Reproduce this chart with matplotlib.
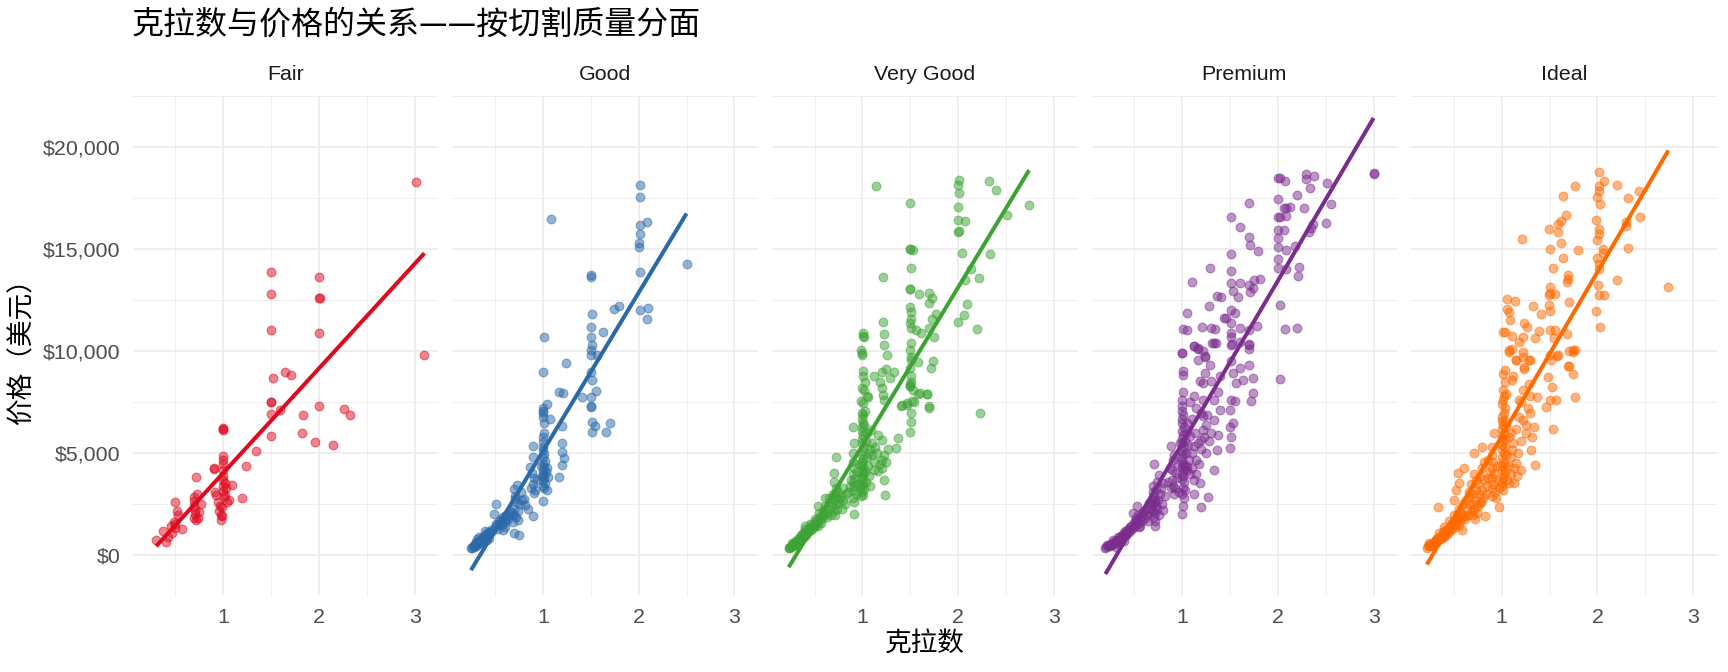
import numpy as np
import matplotlib
matplotlib.use("Agg")
import matplotlib.pyplot as plt

plt.rcParams['font.family'] = ['Liberation Sans', 'Noto Sans CJK SC', 'DejaVu Sans']

cuts = ["Fair", "Good", "Very Good", "Premium", "Ideal"]
colors = ["#DE0A1F", "#2B69A8", "#3DA335", "#7B2D8E", "#FF6A00"]

# straight-line fit (price = intercept + slope * carat)
fit_slope = [5126, 7764, 7750, 7978, 8048]
fit_intercept = [-1084, -2661, -2360, -2505, -2211]

# (carat, price) pairs
fair_pts = [
    (0.30, 750), (0.40, 650), (0.37, 1190), (0.47, 1110), (0.50, 1350), (0.57, 1300), (0.49, 1630),
    (0.52, 2170), (0.50, 2610), (0.53, 2000), (0.45, 1450), (0.42, 900), (0.50, 1550),
    (0.70, 2660), (0.71, 2250), (0.70, 1840), (0.74, 1840), (0.72, 3820), (0.73, 3030), (0.77, 2540),
    (0.70, 2400), (0.71, 2050), (0.72, 1750), (0.75, 2150), (0.70, 2850),
    (0.90, 4290), (0.91, 3100), (0.92, 2940), (0.97, 2410), (0.99, 1920), (0.98, 1730), (0.90, 4250),
    (0.95, 2600), (0.96, 2200), (0.98, 2000),
    (1.00, 6250), (1.00, 6200), (1.00, 6150), (1.00, 4860), (1.00, 4700), (1.00, 4500), (1.00, 4210),
    (1.00, 3880), (1.00, 3700), (1.00, 3400), (1.00, 3150), (1.02, 3560), (1.09, 3460), (1.06, 2740),
    (1.02, 2980), (0.99, 2380), (1.01, 2850), (1.04, 2600), (1.03, 3300),
    (1.20, 2820), (1.24, 4400), (1.34, 5120),
    (1.50, 5870), (1.50, 6930), (1.50, 7500), (1.50, 7520), (1.59, 7140), (1.52, 8690), (1.64, 8970),
    (1.71, 8820), (1.83, 6900), (1.82, 6000), (1.96, 5580), (2.00, 7310), (2.15, 5430), (2.26, 7180),
    (2.32, 6870), (3.10, 9830),
    (1.50, 13890), (1.50, 12820), (1.50, 11030), (2.00, 13620), (2.00, 12620), (2.01, 12600),
    (2.00, 10900), (3.01, 18300),
]

good_pts = [
    (1.09, 16460), (2.01, 18150), (2.01, 17560), (2.01, 16200), (2.09, 16350), (2.01, 15770), (2.00, 15300),
    (2.00, 15120), (2.01, 13890), (2.50, 14300), (1.50, 13720), (1.50, 13640), (1.74, 12050), (1.80, 12210),
    (2.01, 12000), (2.10, 12130), (2.09, 11590), (1.51, 11850), (1.50, 11210), (1.63, 10940), (1.01, 10720),
    (1.50, 10690), (1.51, 10300), (1.50, 10080), (1.50, 9840), (1.57, 9840), (1.24, 9410), (1.00, 8990),
    (1.50, 8970), (1.51, 8610), (1.56, 8050), (1.17, 7990), (1.21, 7940), (1.41, 7740), (1.50, 7740),
    (1.50, 7330), (1.50, 7250), (1.51, 6530), (1.54, 6360), (1.70, 6480), (1.51, 6040), (1.66, 6040),
    (1.04, 7430), (1.00, 7220), (1.00, 7100), (1.00, 6970), (1.00, 6800), (1.01, 6480), (1.08, 6690),
    (1.20, 6350), (1.01, 5990), (1.00, 5800), (1.00, 5580), (1.20, 5530), (1.20, 5090), (1.22, 4770),
    (1.20, 4450), (1.17, 3860), (0.90, 5360), (0.90, 4840),
    (1.00, 5330), (1.00, 5150), (1.01, 4950), (1.00, 4800), (1.02, 4650), (1.00, 4500), (1.01, 4350),
    (1.00, 4200), (1.03, 4100), (1.00, 4000), (1.01, 3850), (1.00, 3700), (1.02, 3550), (1.00, 3400),
    (1.01, 3300), (0.98, 4400), (0.99, 3900), (1.04, 4300), (1.05, 3860), (1.04, 3230), (1.00, 2680),
    (0.91, 3040), (0.90, 1920), (0.87, 4350), (0.89, 4020), (0.94, 3690), (0.90, 3500), (0.91, 3800),
    (0.92, 3200), (0.88, 3300),
    (0.70, 3280), (0.73, 3450), (0.51, 2510), (0.49, 2020), (0.80, 2790), (0.84, 2300), (0.70, 2300),
    (0.74, 1730), (0.70, 1100), (0.75, 990), (0.72, 2600), (0.71, 2900), (0.76, 2500), (0.78, 2700),
    (0.74, 2200), (0.70, 2000), (0.72, 1900), (0.81, 2450), (0.77, 3100), (0.71, 2750),
    (0.30, 500), (0.31, 600), (0.32, 550), (0.33, 700), (0.30, 450), (0.28, 420), (0.26, 380), (0.27, 480),
    (0.25, 350), (0.29, 560), (0.34, 650), (0.35, 780), (0.36, 720), (0.37, 850), (0.38, 900), (0.40, 950),
    (0.41, 1050), (0.42, 1000), (0.43, 1150), (0.45, 1100), (0.46, 1250), (0.47, 1200), (0.50, 1400),
    (0.51, 1550), (0.52, 1500), (0.54, 1700), (0.55, 1600), (0.56, 1800), (0.58, 1900), (0.60, 1750),
    (0.62, 2000), (0.65, 1950), (0.31, 800), (0.33, 900), (0.32, 640), (0.35, 600), (0.39, 700),
    (0.40, 1200), (0.42, 780), (0.44, 880), (0.30, 680), (0.53, 1300), (0.57, 1500), (0.61, 1650),
    (0.64, 1800), (0.66, 2200), (0.68, 2100), (0.69, 1650), (0.60, 1400), (0.58, 1250),
]

very_good_pts = [
    (1.14, 18100), (1.50, 17270), (2.01, 18390), (2.00, 18150), (2.01, 17740), (2.32, 18360), (2.39, 17910),
    (2.74, 17170), (2.51, 16700), (2.00, 17090), (2.00, 16440), (2.07, 16360), (2.01, 15870), (2.00, 15850),
    (1.50, 15000), (1.50, 15020), (1.53, 14950), (2.04, 14800), (2.33, 14780), (1.51, 14100), (1.21, 13630),
    (2.13, 14050), (2.07, 13480), (2.22, 13580), (1.50, 13030), (1.50, 13050), (1.59, 12830), (1.70, 12880),
    (1.73, 12590), (1.69, 12390), (2.09, 12300), (1.50, 12180), (1.51, 11940), (1.51, 11560), (2.06, 11780),
    (1.77, 11810), (1.73, 11560), (2.00, 11420), (2.20, 11090), (1.21, 11450), (1.50, 11400), (1.51, 11130),
    (1.56, 11050), (1.61, 10880), (1.70, 11130), (1.75, 10690), (1.01, 10880), (1.02, 10690), (1.01, 10750),
    (1.23, 10830), (1.22, 10310), (1.26, 9820), (0.99, 10070), (1.00, 9820), (1.00, 9900), (1.51, 10390),
    (1.50, 10070), (1.51, 9740), (1.51, 9580), (1.58, 9500), (1.74, 9550), (1.72, 9170), (1.01, 9060),
    (1.01, 8770), (1.03, 8520), (1.12, 8800), (1.20, 9000), (1.25, 9120), (1.33, 8980), (1.29, 8690),
    (1.18, 8480), (1.20, 8200), (1.00, 8200), (1.05, 7830), (0.99, 7550), (1.21, 7870), (1.23, 7630),
    (1.50, 9170), (1.51, 8770), (1.50, 8280), (1.50, 8300), (1.53, 8120), (1.60, 7960), (1.67, 7910),
    (1.52, 7550), (1.47, 7390), (1.40, 7340), (1.70, 7300), (1.50, 8400), (1.51, 8500),
    (2.23, 7000), (1.70, 7240), (1.51, 7000), (1.51, 6520), (1.50, 6030), (1.41, 7370), (1.47, 7450),
    (1.54, 7530), (1.58, 7910), (1.67, 7910), (1.37, 5740), (1.35, 5250), (1.27, 5200), (1.22, 3700),
    (1.24, 2940), (1.20, 4680), (0.91, 2040), (0.90, 6280), (0.91, 5530), (1.01, 6880), (1.01, 7450),
    (1.02, 8100), (1.06, 7780), (1.09, 6150), (1.16, 5900), (1.20, 5660), (1.13, 5330), (1.07, 5010),
    (0.72, 4840), (0.70, 4030), (0.61, 2800), (0.54, 2400), (0.40, 1420), (0.26, 610), (0.23, 360),
    (1.00, 7000), (1.00, 6700), (1.01, 6500), (1.00, 6300), (1.00, 6100), (1.01, 5900), (1.00, 5700),
    (1.00, 5500), (1.02, 5300), (1.00, 5100), (1.00, 4900), (1.01, 4750), (1.00, 4600), (1.00, 4450),
    (1.02, 4300), (1.00, 4150), (1.01, 4000), (1.00, 3850), (1.00, 3700), (1.01, 3550), (1.00, 3400),
    (1.02, 3250), (1.00, 3100), (1.01, 2950), (1.04, 5600), (1.05, 4800), (1.06, 4400), (1.08, 5200),
    (1.10, 4900), (1.12, 4600), (1.15, 5000), (1.18, 4500), (1.10, 5500), (1.05, 6000), (1.03, 4100),
    (1.07, 3900), (1.12, 4200), (1.20, 4300), (1.25, 4600), (1.22, 4900), (1.16, 4150), (1.04, 3600),
    (1.08, 3400), (1.02, 6400), (1.03, 7100),
    (0.90, 5000), (0.90, 4600), (0.91, 4300), (0.90, 4000), (0.92, 3800), (0.90, 3600), (0.91, 3400),
    (0.90, 3200), (0.93, 3000), (0.90, 2800), (0.91, 2600), (0.95, 3500), (0.94, 4100), (0.96, 4500),
    (0.97, 3300), (0.98, 2900), (0.88, 3700), (0.87, 3400), (0.85, 3100), (0.83, 3000), (0.80, 2700),
    (0.80, 3300), (0.82, 2500), (0.78, 2900), (0.79, 2300),
    (0.70, 3600), (0.72, 3300), (0.71, 3000), (0.70, 2700), (0.72, 2500), (0.73, 2300), (0.70, 2200),
    (0.71, 2000), (0.74, 2800), (0.76, 2600), (0.75, 3100), (0.66, 2600), (0.64, 2300), (0.62, 2100),
    (0.60, 2000), (0.58, 1850), (0.56, 1750), (0.55, 1900), (0.53, 1600), (0.52, 1700), (0.51, 1500),
    (0.50, 1450), (0.50, 1650), (0.48, 1350), (0.46, 1250), (0.45, 1400), (0.44, 1200), (0.42, 1100),
    (0.41, 1000), (0.40, 1150), (0.39, 900), (0.38, 950), (0.37, 850), (0.36, 800), (0.35, 750),
    (0.34, 700), (0.33, 650), (0.32, 600), (0.31, 550), (0.30, 520), (0.30, 650), (0.28, 480), (0.27, 500),
    (0.26, 450), (0.25, 420), (0.24, 400), (0.23, 380), (0.32, 720), (0.35, 900), (0.40, 1300), (0.45, 1550),
    (0.50, 1800), (0.55, 2100), (0.57, 1600), (0.63, 1900), (0.68, 2400), (0.33, 800), (0.29, 600),
    (0.31, 700), (0.36, 1000), (0.38, 1100), (0.43, 1300), (0.47, 1500), (0.54, 1450), (0.59, 2200),
    (0.61, 2400), (0.65, 2800), (0.69, 3000), (0.67, 2000),
]

premium_pts = [
    (3.00, 18710), (3.00, 18690), (2.00, 18500), (2.02, 18470), (2.07, 18350), (2.29, 18680), (2.29, 18430),
    (2.38, 18580), (2.51, 18260), (2.34, 18010), (2.20, 17640), (2.00, 17460), (1.70, 17250), (2.06, 17000),
    (2.09, 17030), (2.13, 17080), (2.27, 17000), (2.56, 17200), (1.51, 16560), (2.00, 16590), (2.02, 16560),
    (2.09, 16630), (1.60, 16090), (2.50, 16300), (2.37, 16230), (2.35, 16020), (2.33, 15830), (2.00, 15940),
    (2.06, 15940), (2.00, 15530), (1.70, 15580), (1.71, 15210), (1.79, 14910), (2.00, 15130), (2.09, 14960),
    (2.18, 15180), (1.51, 14780), (2.00, 14510), (2.00, 14100), (2.09, 14020), (2.22, 14150), (2.21, 13710),
    (1.29, 14080), (1.51, 13950), (1.10, 13410), (1.51, 13330), (1.61, 13330), (1.70, 13250), (1.81, 13550),
    (1.75, 13500), (1.53, 12970), (1.71, 12890), (1.74, 13090), (1.37, 12710), (1.41, 12680), (1.58, 12650),
    (2.02, 12290), (1.28, 12220), (1.05, 11870), (1.51, 12000), (1.55, 11870), (1.44, 11620), (1.46, 11620),
    (1.51, 11410), (1.01, 11080), (1.05, 11050), (1.21, 11180), (1.30, 11150), (1.34, 11110), (1.60, 11150),
    (1.70, 11050), (1.78, 11260), (2.07, 11110), (2.20, 11160), (1.51, 10890), (1.51, 10720), (1.31, 10430),
    (1.35, 10430), (1.12, 10240), (1.17, 10110), (1.22, 10040), (1.00, 9940), (1.51, 10320), (1.70, 10370),
    (1.70, 10110), (1.61, 10480), (1.24, 9750),
    (2.02, 8640), (1.00, 9920), (1.12, 10250), (1.17, 10160), (1.33, 10400), (1.52, 10380), (1.70, 10330),
    (1.17, 9560), (1.24, 9720), (1.29, 9350), (1.24, 8940), (1.01, 9020), (1.01, 8860), (1.19, 8530),
    (1.22, 8450), (1.30, 8530), (1.40, 8770), (1.51, 9510), (1.53, 8940), (1.60, 9180), (1.70, 9350),
    (1.64, 8610), (1.74, 8690), (1.56, 8450), (1.38, 7990), (1.51, 7630), (1.55, 7550), (1.74, 7960),
    (1.72, 7550), (1.01, 7990), (1.00, 7630), (1.08, 7500), (1.12, 7830), (1.22, 7630), (1.33, 7630),
    (1.40, 7140), (1.50, 7140), (1.53, 6490), (1.50, 6290), (1.51, 5780), (1.50, 5280), (1.36, 5180),
    (1.38, 5920), (1.33, 6650), (1.22, 6160), (1.20, 5670), (1.22, 6810), (1.25, 5020), (1.33, 4170),
    (1.19, 3540), (1.27, 2860), (1.20, 2370), (1.12, 3020), (1.01, 2400), (1.00, 2040),
    (1.00, 7300), (1.00, 7100), (1.01, 6900), (1.00, 6700), (1.00, 6500), (1.02, 6300), (1.00, 6100),
    (1.01, 5900), (1.00, 5700), (1.00, 5500), (1.02, 5300), (1.00, 5100), (1.01, 4950), (1.00, 4800),
    (1.00, 4650), (1.01, 4500), (1.00, 4350), (1.02, 4200), (1.00, 4050), (1.01, 3900), (1.00, 3750),
    (1.03, 5600), (1.04, 5000), (1.03, 4400), (1.02, 3600), (1.01, 3300), (1.00, 3000), (1.02, 2800),
    (1.04, 6000), (1.06, 5400), (1.07, 4700), (1.05, 4200),
    (1.05, 6490), (1.08, 5830), (1.12, 5340), (1.15, 4690), (1.05, 4360), (0.94, 4040), (0.89, 5340),
    (0.91, 4690), (0.91, 3380), (1.10, 5000), (1.14, 6000), (1.17, 5500), (1.20, 5200), (1.23, 5800),
    (1.10, 4300), (1.15, 4000), (1.18, 4500), (1.25, 6400), (1.28, 5600), (1.30, 6000), (1.26, 6900),
    (1.10, 6700), (1.15, 7200), (1.20, 7000), (1.08, 4000), (1.12, 3700), (1.03, 3200), (0.95, 3800),
    (0.93, 3300), (0.92, 3000), (0.90, 4200), (0.90, 3700), (0.92, 4900), (0.96, 4500), (0.97, 3100),
    (0.98, 5500), (0.85, 3600), (0.87, 4300), (0.88, 3300),
    (0.71, 4490), (0.76, 3950), (0.80, 3540), (0.73, 3220), (0.72, 2730), (0.73, 2400), (0.72, 2080),
    (0.72, 1420), (0.80, 2240), (0.82, 2890), (0.70, 3380), (0.65, 2570), (0.53, 2400), (0.49, 2080),
    (0.53, 1750), (0.56, 1420), (0.46, 1260), (0.39, 1090), (0.35, 930), (0.28, 770), (0.21, 440),
    (0.20, 360), (0.31, 440), (0.39, 690),
    (0.70, 3100), (0.71, 2900), (0.72, 2600), (0.70, 2500), (0.74, 2300), (0.75, 2700), (0.77, 3000),
    (0.78, 3300), (0.74, 3600), (0.70, 2200), (0.71, 1900), (0.72, 1700), (0.76, 2000), (0.79, 2500),
    (0.68, 2300), (0.66, 2100), (0.63, 2000), (0.61, 1850), (0.60, 2200), (0.58, 1700), (0.57, 1900),
    (0.55, 1600), (0.54, 2000), (0.52, 1500), (0.51, 1700), (0.50, 1400), (0.50, 1600), (0.48, 1300),
    (0.47, 1450), (0.45, 1150), (0.44, 1300), (0.42, 1000), (0.41, 1150), (0.40, 950), (0.38, 900),
    (0.37, 1000), (0.36, 850), (0.34, 800), (0.33, 700), (0.32, 750), (0.31, 650), (0.30, 600),
    (0.30, 700), (0.29, 550), (0.27, 600), (0.26, 500), (0.25, 480), (0.24, 520), (0.23, 450), (0.22, 500),
    (0.33, 900), (0.36, 700), (0.40, 1200), (0.43, 1100), (0.46, 1400), (0.52, 1850), (0.55, 1400),
    (0.58, 2100), (0.62, 2300), (0.64, 1700), (0.67, 2500), (0.69, 2700),
]

ideal_pts = [
    (2.02, 18760), (2.07, 18340), (2.20, 18170), (1.77, 18120), (2.02, 18080), (2.02, 17850), (2.00, 17560),
    (2.03, 17200), (1.64, 17600), (2.43, 17850), (2.32, 17510), (2.44, 16580), (1.67, 16660), (1.62, 16370),
    (1.59, 16250), (1.99, 16410), (2.30, 16330), (2.30, 16140), (1.49, 16010), (1.59, 15840), (2.02, 16010),
    (2.02, 15760), (2.00, 15440), (1.21, 15480), (1.50, 15030), (1.62, 15320), (1.80, 14980), (2.06, 15030),
    (2.06, 14820), (2.32, 15080), (1.64, 14590), (2.00, 14570), (2.02, 14300), (2.02, 14050), (1.54, 14100),
    (1.69, 13720), (1.69, 13560), (1.68, 13400), (2.20, 13510), (2.74, 13150), (2.01, 13270), (2.02, 12750),
    (2.07, 12780), (1.51, 13150), (1.50, 12880), (1.49, 12750), (1.56, 12800), (1.06, 12550), (1.14, 12470),
    (1.70, 12420), (1.33, 12220), (1.49, 12260), (1.06, 12070), (1.08, 11930), (1.09, 11520), (1.51, 11960),
    (1.41, 11820), (1.99, 11980), (2.03, 11170), (1.23, 11390), (1.27, 11200), (1.01, 10970), (1.04, 10970),
    (1.39, 10990), (1.51, 11030), (1.56, 11030), (1.68, 10840), (1.11, 10740), (1.22, 10680), (1.18, 10460),
    (1.35, 10630), (1.55, 10630), (1.08, 10060), (1.11, 10090), (1.22, 9980), (1.70, 10010), (1.74, 10060),
    (1.77, 10060), (1.15, 9570), (1.29, 9570), (1.52, 9570), (1.59, 9800), (1.70, 9270), (1.04, 9080),
    (1.23, 9210),
    (1.08, 9970), (1.15, 9560), (1.22, 9720), (1.30, 9560), (1.51, 9800), (1.58, 9760), (1.75, 9970),
    (1.69, 9270), (1.74, 8880), (1.77, 7770), (1.01, 8880), (1.04, 8500), (1.11, 8590), (1.23, 9110),
    (1.22, 8100), (1.29, 8420), (1.01, 8100), (1.01, 7610), (1.04, 7200), (1.18, 7610), (1.37, 7770),
    (1.48, 8750), (1.53, 8260), (1.51, 7610), (1.57, 7610), (1.46, 7280), (1.54, 6200), (1.30, 6960),
    (1.34, 6280), (1.32, 5820), (1.31, 5170), (1.35, 4440),
    (1.00, 6800), (1.00, 6600), (1.01, 6400), (1.00, 6200), (1.02, 6000), (1.00, 5800), (1.01, 5600),
    (1.00, 5400), (1.00, 5200), (1.02, 5000), (1.00, 4800), (1.01, 4600), (1.00, 4400), (1.00, 4200),
    (1.02, 4000), (1.01, 3800), (1.00, 3600), (1.00, 3400), (1.01, 3200), (1.03, 5700), (1.04, 5300),
    (1.05, 4900), (1.03, 4500), (1.04, 4100), (1.06, 3700), (1.02, 7000), (1.05, 6300), (1.03, 6600),
    (1.00, 7400), (1.02, 7800),
    (1.08, 5820), (1.11, 5170), (1.15, 4520), (1.20, 4200), (1.13, 3540), (1.08, 3540), (1.22, 6630),
    (1.25, 5980), (0.92, 5980), (0.90, 5330), (0.80, 5330), (0.71, 5010), (0.61, 4280), (0.54, 4030),
    (0.56, 3540), (0.52, 3220), (0.50, 2730), (0.34, 2370), (0.83, 1920), (0.97, 2370), (0.77, 2570),
    (0.73, 3220), (0.66, 2900), (0.62, 1920), (0.59, 1270), (0.48, 1590), (0.41, 1270), (0.37, 940),
    (0.31, 780), (0.24, 620), (0.22, 370), (0.27, 450),
    (1.10, 6000), (1.12, 5500), (1.17, 5000), (1.20, 5600), (1.25, 6400), (1.28, 7200), (1.18, 6800),
    (1.15, 6200), (1.10, 4800), (1.13, 4300), (1.16, 3900), (1.10, 4000), (1.07, 4400), (1.20, 7500),
    (1.30, 7800), (1.12, 8800), (1.05, 7900),
    (0.90, 4900), (0.91, 4600), (0.90, 4300), (0.92, 4000), (0.90, 3800), (0.91, 3500), (0.90, 3300),
    (0.93, 3100), (0.90, 2900), (0.95, 4400), (0.96, 3700), (0.97, 3300), (0.94, 2800), (0.88, 4100),
    (0.86, 3800), (0.85, 3400), (0.84, 3000), (0.82, 3700), (0.81, 2800), (0.80, 4300), (0.79, 3200),
    (0.78, 2600), (0.76, 3000), (0.75, 3500), (0.75, 2400), (0.74, 2100), (0.72, 2700), (0.71, 2300),
    (0.70, 3000), (0.70, 2500), (0.70, 2000), (0.71, 4000), (0.73, 3700), (0.72, 1800), (0.69, 2200),
    (0.67, 2500), (0.65, 2000), (0.64, 2300), (0.63, 2700), (0.62, 1800), (0.60, 1900), (0.58, 2100),
    (0.57, 1700), (0.56, 1950), (0.55, 1500), (0.54, 1750), (0.53, 2000), (0.52, 1600), (0.51, 1400),
    (0.50, 1500), (0.50, 1700), (0.50, 2000), (0.48, 1300), (0.47, 1500), (0.46, 1200), (0.45, 1350),
    (0.44, 1100), (0.43, 1250), (0.42, 1000), (0.41, 1100), (0.40, 900), (0.40, 1050), (0.39, 1150),
    (0.38, 850), (0.37, 950), (0.36, 800), (0.35, 900), (0.34, 750), (0.33, 700), (0.33, 850),
    (0.32, 650), (0.31, 600), (0.31, 750), (0.30, 600), (0.30, 700), (0.29, 550), (0.28, 600),
    (0.27, 520), (0.26, 550), (0.25, 480), (0.24, 500), (0.23, 450), (0.35, 1100), (0.40, 1400),
    (0.45, 1700), (0.55, 2300), (0.60, 2500), (0.66, 3100), (0.68, 3500), (0.77, 3900), (0.82, 4600),
    (0.86, 4700),
]

all_pts = [fair_pts, good_pts, very_good_pts, premium_pts, ideal_pts]

W, H = 1728, 672
fig = plt.figure(figsize=(W / 100, H / 100), dpi=100)
fig.patch.set_facecolor("white")

# panel geometry in pixels
left0, pw, gap = 132.7, 305.6, 14.0
ptop, pbot = 95.7, 595.1

grid_col = "#EBEBEB"
axes = []
for i, (cut, col, pts) in enumerate(zip(cuts, colors, all_pts)):
    x0 = left0 + i * (pw + gap)
    ax = fig.add_axes([x0 / W, 1 - pbot / H, pw / W, (pbot - ptop) / H])
    axes.append(ax)
    carat = np.array([p[0] for p in pts])
    price = np.array([p[1] for p in pts])

    ax.scatter(carat, price, s=40, facecolor=col, edgecolor=col, alpha=0.5,
               linewidths=0.8, zorder=2)
    xs = np.array([carat.min(), carat.max()])
    ax.plot(xs, fit_intercept[i] + fit_slope[i] * xs, color=col, lw=2.9,
            solid_capstyle="butt", zorder=3)

    ax.set_xlim(0.055, 3.245)
    ax.set_ylim(-1940, 22520)
    ax.set_xticks([1, 2, 3])
    ax.set_xticks([0.5, 1.5, 2.5], minor=True)
    ax.set_yticks([0, 5000, 10000, 15000, 20000])
    ax.set_yticks([2500, 7500, 12500, 17500, 22500], minor=True)
    ax.grid(which="major", color=grid_col, lw=1.2, zorder=0)
    ax.grid(which="minor", color=grid_col, lw=0.6, zorder=0)
    ax.set_axisbelow(True)
    for s in ax.spines.values():
        s.set_visible(False)
    ax.tick_params(which="both", length=0, labelsize=15.4, labelcolor="#4D4D4D")
    ax.tick_params(axis="x", pad=9)
    ax.tick_params(axis="y", pad=9)
    if i == 0:
        ax.set_yticklabels(["$0", "$5,000", "$10,000", "$15,000", "$20,000"])
    else:
        ax.set_yticklabels([])
    ax.text(0.5, 1.0415, cut, transform=ax.transAxes, ha="center", va="center",
            fontsize=15.4, color="#1A1A1A")

fig.text(132 / W, 1 - 25 / H, "克拉数与价格的关系——按切割质量分面", ha="left", va="center",
         fontsize=23, color="black", family=["Noto Sans CJK SC", "DejaVu Sans"])
fig.text((left0 + (5 * pw + 4 * gap) / 2) / W, 1 - 644 / H, "克拉数", ha="center", va="center",
         fontsize=19.2, color="black", family=["Noto Sans CJK SC", "DejaVu Sans"])
fig.text(22 / W, 1 - (ptop + pbot) / 2 / H, "价格（美元）", ha="center", va="center", rotation=90,
         fontsize=19.2, color="black", family=["Noto Sans CJK SC", "DejaVu Sans"])

fig.savefig("out.png", dpi=100, facecolor="white")
